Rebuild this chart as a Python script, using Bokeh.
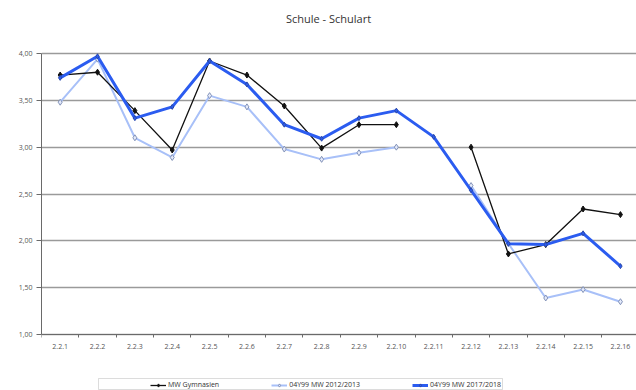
import numpy as np
from bokeh.plotting import figure
from bokeh.models import Range1d, FixedTicker, Legend, LegendItem, BoxAnnotation, Label
from bokeh.embed import file_html
from bokeh.resources import INLINE

nan = np.nan

categories = ["2.2.1", "2.2.2", "2.2.3", "2.2.4", "2.2.5", "2.2.6", "2.2.7", "2.2.8",
              "2.2.9", "2.2.10", "2.2.11", "2.2.12", "2.2.13", "2.2.14", "2.2.15", "2.2.16"]

mw_gymnasien = [3.77, 3.80, 3.39, 2.97, 3.92, 3.77, 3.44, 2.99,
                3.24, 3.24, nan, 3.00, 1.86, 1.96, 2.34, 2.28]
mw_2012 = [3.48, 3.94, 3.10, 2.89, 3.55, 3.43, 2.98, 2.87,
           2.94, 3.00, nan, 2.59, 1.97, 1.39, 1.48, 1.35]
mw_2017 = [3.74, 3.97, 3.31, 3.43, 3.92, 3.67, 3.24, 3.09,
           3.31, 3.39, 3.11, 2.54, 1.97, 1.96, 2.08, 1.73]

y_ticks = [1.0, 1.5, 2.0, 2.5, 3.0, 3.5, 4.0]
y_tick_labels = ["1,00", "1,50", "2,00", "2,50", "3,00", "3,50", "4,00"]

series_names = ["MW Gymnasien", "04Y99 MW 2012/2013", "04Y99 MW 2017/2018"]
title_text = "Schule - Schulart"

FONT = "Open Sans"
TICK_COLOR = "#555555"
AXIS_COLOR = "#6a6a6a"
x = list(range(1, len(categories) + 1))

# The plotting frame spans the whole canvas height so that the legend strip
# under the category axis is drawn inside it; the value axis is bounded to 1..4.
H, TOP_PX, BOTTOM_PX = 390, 53, 334
px_per_unit = (BOTTOM_PX - TOP_PX) / (y_ticks[-1] - y_ticks[0])
y_end = y_ticks[-1] + TOP_PX / px_per_unit
y_start = y_ticks[0] - (H - BOTTOM_PX) / px_per_unit

p = figure(width=636, height=H, output_backend="svg", toolbar_location=None,
           x_range=Range1d(0.5, 16.43), y_range=Range1d(y_start, y_end),
           min_border_left=41, min_border_right=0, min_border_top=0,
           min_border_bottom=0, outline_line_color=None,
           background_fill_color="white", border_fill_color="white")

# y axis
p.yaxis.ticker = FixedTicker(ticks=y_ticks)
p.yaxis.bounds = (y_ticks[0], y_ticks[-1])
p.yaxis.major_label_overrides = {t: l for t, l in zip(y_ticks, y_tick_labels)}
p.yaxis.major_label_text_font = FONT
p.yaxis.major_label_text_font_size = "7px"
p.yaxis.major_label_text_color = TICK_COLOR
p.yaxis.axis_line_color = AXIS_COLOR
p.yaxis.major_tick_line_color = AXIS_COLOR
p.yaxis.major_tick_out = 5
p.yaxis.major_tick_in = 0
p.yaxis.minor_tick_line_color = None
p.yaxis.major_label_standoff = 4

# x axis at value 1.00: labels at category centres, ticks on category boundaries
p.xaxis.fixed_location = y_ticks[0]
p.xaxis.ticker = FixedTicker(ticks=x, minor_ticks=[i + 0.5 for i in range(0, 17)])
p.xaxis.major_label_overrides = {i: c for i, c in zip(x, categories)}
p.xaxis.major_label_text_font = FONT
p.xaxis.major_label_text_font_size = "7px"
p.xaxis.major_label_text_color = TICK_COLOR
p.xaxis.axis_line_color = AXIS_COLOR
p.xaxis.major_tick_line_color = None
p.xaxis.minor_tick_line_color = AXIS_COLOR
p.xaxis.minor_tick_out = 3
p.xaxis.minor_tick_in = 0
p.xaxis.major_label_standoff = 3

p.xgrid.grid_line_color = None
p.ygrid.ticker = FixedTicker(ticks=y_ticks)
p.ygrid.grid_line_color = "#9a9a9a"
p.ygrid.grid_line_width = 1.5

# series
l2 = p.line(x, mw_2012, line_color="#a8c0f8", line_width=2)
s2 = p.scatter(x, mw_2012, marker="diamond", size=6, fill_color="#e4eafb",
               line_color="#8292b8", line_width=1)

l1 = p.line(x, mw_gymnasien, line_color="#111111", line_width=1.3)
s1 = p.scatter(x, mw_gymnasien, marker="diamond", size=6, fill_color="#111111",
               line_color="#111111")

l3 = p.line(x, mw_2017, line_color="#2b5cf0", line_width=3)
s3 = p.scatter(x, mw_2017, marker="diamond", size=5, fill_color="#2b5cf0",
               line_color="#2a48a8", line_width=1)

# chart title
p.add_layout(Label(x=287, y=H - 18, x_units="screen", y_units="screen",
                   text=title_text, text_font=FONT, text_font_size="11px",
                   text_color="#333333", text_align="center",
                   text_baseline="middle"))

# legend frame below the axis
legend_box = BoxAnnotation(left=98, right=502, top=378, bottom=389,
                           left_units="canvas", right_units="canvas",
                           top_units="canvas", bottom_units="canvas",
                           fill_color="white", fill_alpha=1.0,
                           line_color="#8a8a8a", line_width=1, level="overlay")
p.add_layout(legend_box)

legend = Legend(items=[LegendItem(label=series_names[0], renderers=[l1, s1]),
                       LegendItem(label=series_names[1], renderers=[l2, s2]),
                       LegendItem(label=series_names[2], renderers=[l3, s3])],
                orientation="horizontal", location=(109, 1),
                label_text_font=FONT, label_text_font_size="7px",
                label_text_color="#333333", glyph_width=16, glyph_height=8,
                label_standoff=2, label_width=10, spacing=52, padding=2,
                border_line_color=None, background_fill_alpha=0.0,
                margin=0, label_height=8)
p.add_layout(legend, "center")

open("out.html", "w").write(file_html(p, INLINE))
